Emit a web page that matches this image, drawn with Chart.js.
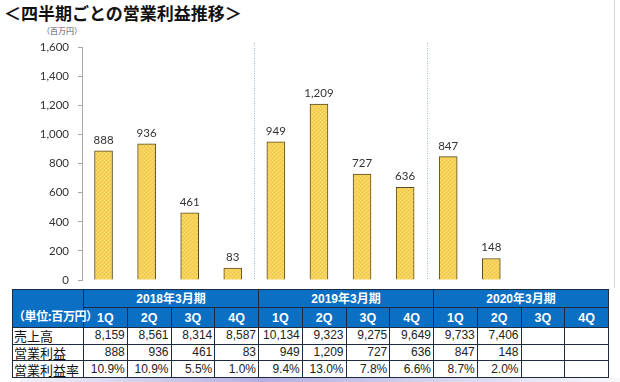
<!DOCTYPE html>
<html>
<head>
<meta charset="utf-8">
<script src="https://cdn.jsdelivr.net/npm/chart.js@4/dist/chart.umd.min.js"></script>
<style>
  html, body { margin: 0; padding: 0; background: #fff; }
  body { width: 620px; height: 382px; position: relative; overflow: hidden; font-family: "Noto Sans CJK JP", sans-serif; }
  #title { position: absolute; left: 4px; top: 1px; font-size: 17px; font-weight: bold; color: #111; line-height: 24px; }
  #unit { position: absolute; left: 42px; top: 26px; font-size: 8px; color: #555; line-height: 10px; }
  #c { position: absolute; left: 0; top: 0; }
  #rightline { position: absolute; left: 614px; top: 0; width: 1px; height: 288px; background: #d8d8d8; }
  #shade { position: absolute; left: 20px; top: 378px; width: 600px; height: 4px; background: linear-gradient(to right, rgba(190,190,225,0.2), rgba(120,110,200,0.55) 40%, rgba(150,150,215,0.35) 75%, rgba(220,220,235,0.2)); }
  table { position: absolute; left: 12px; top: 289px; border-collapse: collapse; table-layout: fixed; width: 597px; background: #fff; }
  td, th { border: 1px solid #1d2a3f; padding: 0; overflow: hidden; white-space: nowrap; box-sizing: border-box; }
  th { background: #0b6fc3; color: #fff; font-weight: bold; text-align: center; font-family: "Liberation Sans", "Noto Sans CJK JP", sans-serif; }
  tr.yr { height: 18px; }
  tr.q { height: 20px; }
  tr.d { height: 16.7px; }
  tr.yr th { font-size: 12px; line-height: 14px; }
  tr.q th { font-size: 12.5px; line-height: 14px; }
  th.unit { font-size: 8.5px; letter-spacing: -0.4px; vertical-align: bottom; padding-bottom: 4px; line-height: 10px; font-family: "Noto Sans CJK JP", sans-serif; overflow: visible; }
  td { font-size: 12px; line-height: 13px; color: #222; text-align: right; padding-right: 2px; font-family: "Liberation Sans Narrow", "Liberation Sans", sans-serif; }
  td.lab { text-align: left; font-size: 13px; padding-left: 1px; padding-right: 0; font-family: "Noto Sans CJK JP", sans-serif; color: #111; line-height: 13px; }
</style>
</head>
<body>
<div id="title">＜四半期ごとの営業利益推移＞</div>
<div id="unit">（百万円）</div>
<canvas id="c" width="620" height="296" style="width:620px;height:296px"></canvas>
<div id="rightline"></div>
<table id="tbl"></table>
<div id="shade"></div>
<script>
// ---- data ----
const quarters = ['1Q','2Q','3Q','4Q','1Q','2Q','3Q','4Q','1Q','2Q','3Q','4Q'];
const fiscalYears = ['2018年3月期','2019年3月期','2020年3月期'];
const operatingProfit = [888, 936, 461, 83, 949, 1209, 727, 636, 847, 148, null, null];
const sales = [8159, 8561, 8314, 8587, 10134, 9323, 9275, 9649, 9733, 7406, null, null];
const operatingMargin = [10.9, 10.9, 5.5, 1.0, 9.4, 13.0, 7.8, 6.6, 8.7, 2.0, null, null];
const rowLabels = ['売上高', '営業利益', '営業利益率'];
const unitLabel = '（単位:百万円）';
const yMin = 0, yMax = 1600, yStep = 200;

// ---- table ----
const fmt = v => v == null ? '' : v.toLocaleString('en-US');
const fmtPct = v => v == null ? '' : v.toFixed(1) + '%';
(function buildTable() {
  const t = document.getElementById('tbl');
  let html = '<colgroup><col style="width:71px">' + quarters.map(() => '<col>').join('') + '</colgroup>';
  html += '<tr class="yr"><th class="unit" rowspan="2">' + unitLabel + '</th>' +
    fiscalYears.map(y => '<th colspan="4">' + y + '</th>').join('') + '</tr>';
  html += '<tr class="q">' + quarters.map(q => '<th>' + q + '</th>').join('') + '</tr>';
  const rows = [sales.map(fmt), operatingProfit.map(fmt), operatingMargin.map(fmtPct)];
  rows.forEach((r, i) => {
    html += '<tr class="d"><td class="lab">' + rowLabels[i] + '</td>' + r.map(v => '<td>' + v + '</td>').join('') + '</tr>';
  });
  t.innerHTML = html;
})();

// ---- bar pattern ----
function makePattern() {
  const p = document.createElement('canvas');
  p.width = 4; p.height = 4;
  const g = p.getContext('2d');
  g.fillStyle = '#f6d157'; g.fillRect(0, 0, 4, 4);
  g.fillStyle = '#fbe07e'; g.fillRect(0, 0, 1, 1); g.fillRect(2, 2, 1, 1);
  g.fillStyle = '#efc649'; g.fillRect(2, 0, 1, 1); g.fillRect(0, 2, 1, 1);
  return document.getElementById('c').getContext('2d').createPattern(p, 'repeat');
}

const labelPlugin = {
  id: 'valueLabels',
  afterDatasetsDraw(chart) {
    const ctx = chart.ctx;
    const meta = chart.getDatasetMeta(0);
    ctx.save();
    ctx.font = '11.5px Lato, "Liberation Sans", sans-serif';
    ctx.fillStyle = '#333';
    ctx.textAlign = 'center';
    ctx.textBaseline = 'bottom';
    meta.data.forEach((el, i) => {
      const v = operatingProfit[i];
      if (v == null) return;
      ctx.fillText(fmt(v), el.x, el.y - 5);
    });
    ctx.restore();
  }
};

const sepPlugin = {
  id: 'separators',
  beforeDatasetsDraw(chart) {
    const ctx = chart.ctx, xs = chart.scales.x, a = chart.chartArea;
    ctx.save();
    ctx.strokeStyle = '#9fb6d3';
    ctx.lineWidth = 1;
    ctx.setLineDash([1, 1.5]);
    [3, 7].forEach(i => {
      const x = Math.round((xs.getPixelForValue(i) + xs.getPixelForValue(i + 1)) / 2) + 0.5;
      ctx.beginPath();
      ctx.moveTo(x, a.top - 4);
      ctx.lineTo(x, a.bottom);
      ctx.stroke();
    });
    ctx.restore();
  }
};

new Chart(document.getElementById('c'), {
  type: 'bar',
  data: {
    labels: quarters.map((q, i) => fiscalYears[Math.floor(i / 4)] + ' ' + q),
    datasets: [{
      data: operatingProfit,
      backgroundColor: makePattern(),
      borderColor: '#5a4a22',
      borderWidth: 1,
      barThickness: 18
    }]
  },
  options: {
    responsive: false,
    devicePixelRatio: 1,
    animation: false,
    locale: 'en-US',
    layout: { padding: { left: 0, right: 21, top: 47, bottom: 10 } },
    plugins: { legend: { display: false }, tooltip: { enabled: false }, title: { display: false } },
    scales: {
      x: { display: false, offset: true },
      y: {
        min: yMin, max: yMax,
        ticks: { stepSize: yStep, color: '#333', font: { family: 'Lato, "Liberation Sans", sans-serif', size: 11.5 }, padding: 9 },
        grid: { drawOnChartArea: false, drawTicks: true, tickLength: 4, color: '#a6a6a6' },
        border: { display: true, color: '#a6a6a6' },
        afterFit(s) { s.width = 82; }
      }
    }
  },
  plugins: [sepPlugin, labelPlugin]
});
</script>
</body>
</html>
